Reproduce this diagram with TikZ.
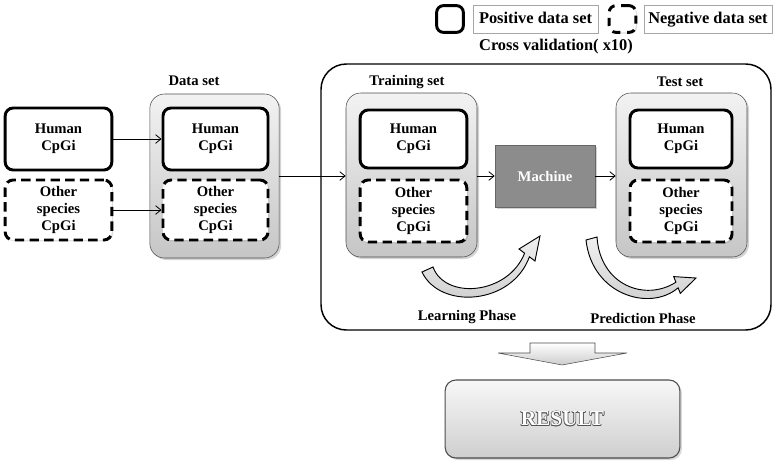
\documentclass[tikz,border=0pt]{standalone}
\usepackage{fontspec}
\setmainfont{Liberation Serif}
\usetikzlibrary{arrows.meta,shadows}

\tikzset{
  txt/.style={font=\fontsize{11}{13}\selectfont\bfseries},
  posbox/.style={txt, draw, line width=2.2pt, rounded corners=6pt, fill=white, align=center,
    minimum width=80pt, minimum height=45pt, inner sep=1pt,
    drop shadow={opacity=0.25,shadow xshift=1pt,shadow yshift=-1pt}},
  negbox/.style={posbox, dash pattern=on 7pt off 4pt},
  setbox/.style={draw=gray!60!black, rounded corners=11pt, top color=gray!10, bottom color=gray!45,
    minimum width=97pt, minimum height=123pt,
    drop shadow={opacity=0.35,shadow xshift=1.5pt,shadow yshift=-1.5pt}},
  legbox/.style={draw=gray!70, thin, font=\fontsize{12.3}{14}\selectfont\bfseries,
    minimum height=21pt, text height=8.5pt, text depth=2.5pt, inner sep=2pt},
  conn/.style={-{Straight Barb[length=4pt,width=6.5pt]}, line width=0.6pt},
  phase/.style={draw=black, line width=0.7pt, top color=gray!12, bottom color=gray!40},
}

\begin{document}
\begin{tikzpicture}[x=0.75pt,y=-0.75pt]
\useasboundingbox (0,0) rectangle (777,465);

% legend
\node[posbox, minimum width=20pt, minimum height=20pt, rounded corners=5pt] (legpos) at (450,19) {};
\node[legbox, minimum width=94pt] (legposlbl) at (535.5,19) {Positive data set};
\node[negbox, minimum width=20pt, minimum height=20pt, rounded corners=5pt, dash pattern=on 6pt off 5pt] (legneg) at (622.5,19) {};
\node[legbox, minimum width=96pt] (legneglbl) at (708,19) {Negative data set};

% cross validation frame
\node[font=\fontsize{12.3}{14}\selectfont\bfseries] (cvlbl) at (556,47) {Cross validation( x10)};
\node[draw, line width=1.1pt, rounded corners=19pt, minimum width=337.5pt, minimum height=199.5pt] (cv) at (546,197) {};

% input data
\node[posbox, minimum width=80pt, minimum height=46.5pt] (inhum) at (58.5,139) {Human\\CpGi};
\node[negbox, minimum width=80pt, minimum height=45pt] (inoth) at (58.5,210) {Other\\species\\CpGi};

% data set
\node[txt] (datalbl) at (194,81) {Data set};
\node[setbox] (data) at (214.5,176) {};
\node[posbox, minimum width=78.75pt, minimum height=46.5pt] (datahum) at (215.5,139) {Human\\CpGi};
\node[negbox, minimum width=78.75pt, minimum height=45pt] (dataoth) at (215.5,210) {Other\\species\\CpGi};

% training set
\node[txt] (trainlbl) at (407,82) {Training set};
\node[setbox, minimum width=98.25pt] (train) at (411.5,175) {};
\node[posbox, minimum width=80pt, minimum height=43.5pt] (trainhum) at (413.5,139) {Human\\CpGi};
\node[negbox, minimum width=80pt, minimum height=46.5pt] (trainoth) at (413.5,211) {Other\\species\\CpGi};

% machine
\node[txt, fill=gray!90, draw=gray!80!black, text=white, minimum width=75pt, minimum height=46.5pt,
  drop shadow={opacity=0.35,shadow xshift=1.5pt,shadow yshift=-1.5pt}] (machine) at (545,176) {Machine};

% test set
\node[txt] (testlbl) at (680,82) {Test set};
\node[setbox, minimum width=98.25pt] (test) at (681.5,175) {};
\node[posbox, minimum width=76.5pt, minimum height=43.5pt] (testhum) at (681,139) {Human\\CpGi};
\node[negbox, minimum width=76.5pt, minimum height=46.5pt] (testoth) at (681,211) {Other\\species\\CpGi};

% connectors
\draw[conn] (inhum) -- (datahum);
\draw[conn] (inoth) -- (dataoth);
\draw[conn] (data.east) -- (data.east -| train.west);
\draw[conn] (train.east |- machine) -- (machine.west);
\draw[conn] (machine.east) -- (machine.east -| test.west);

% phases
\path[phase] (422,272) .. controls (440,310) and (512,305) .. (529.4,256.8) -- (535,261) -- (540,236)
  -- (519,249) -- (524.6,253.2) .. controls (508,295) and (445,300) .. (433,267) -- cycle;
\node[txt] (learnlbl) at (467,317) {Learning Phase};
\path[phase] (586,240) .. controls (592,295) and (650,312) .. (678.1,287.8) -- (680.3,293.4) -- (696,278)
  -- (673.7,276.6) -- (675.9,282.2) .. controls (645,302) and (600,285) .. (597,237) -- cycle;
\node[txt] (predlbl) at (643,318) {Prediction Phase};

% result
\path[draw=gray!60!black, top color=white, bottom color=gray!40]
  (530,343) -- (595,343) -- (595,353) -- (627,353) -- (562,365) -- (498,353) -- (530,353) -- cycle;
\node[draw=gray!60!black, line width=0.8pt, rounded corners=8pt, top color=gray!6, bottom color=gray!38,
  minimum width=176pt, minimum height=58.5pt,
  drop shadow={opacity=0.3,shadow xshift=1.5pt,shadow yshift=-1.5pt}] (res) at (562.5,419) {};
\foreach \dx/\dy in {0.5/0,-0.5/0,0/0.5,0/-0.5,0.35/0.35,-0.35/0.35,0.35/-0.35,-0.35/-0.35}
  \node[font=\fontsize{16}{18}\selectfont\bfseries, text=gray!65!black] at ([shift={(\dx pt,\dy pt)}]res.center) {RESULT};
\node[font=\fontsize{16}{18}\selectfont\bfseries, text=white] (reslbl) at (res) {RESULT};

\end{tikzpicture}
\end{document}
